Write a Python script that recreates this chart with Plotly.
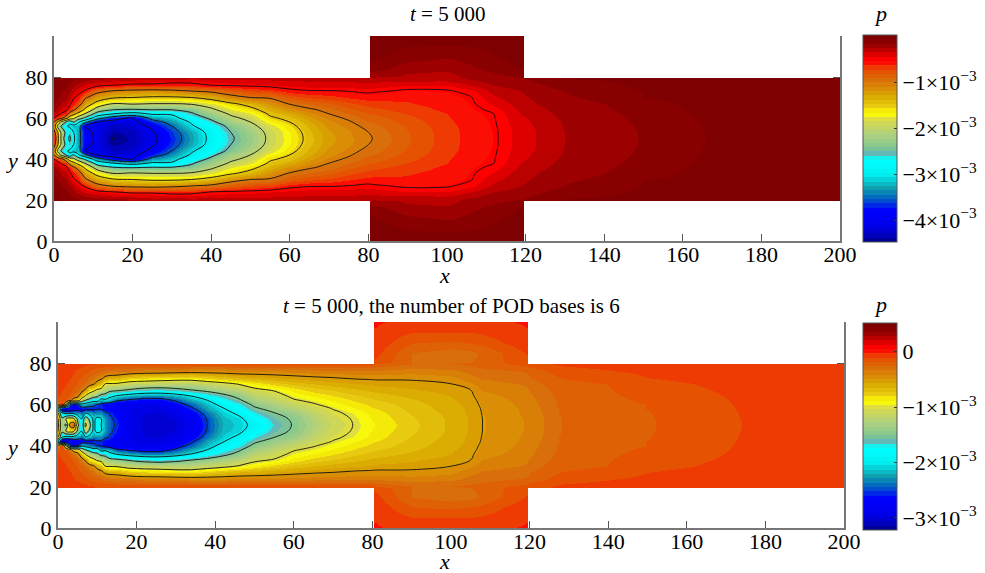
import plotly.graph_objects as go

W, H = 985, 573
h_channel = [0, 3, 6, 8, 10, 12, 14, 17, 20, 23, 26, 29.5]
h_stub = [30.5, 35, 40, 45, 50]

# ---- top panel: p (units of 1e-3) per x column, at distance h from the centre line
x_top = [0, 1, 2, 3, 4, 5, 6, 8, 11, 15, 20, 25, 30, 35, 40, 45, 50, 55, 60, 65, 70, 75, 80, 81,
         90, 100, 106, 112, 119, 120, 130, 140, 150, 165, 200]
p_top = [
    [-0.6, -0.8, -1.2, -1.0, -0.5, -0.3, -0.2, -0.15, -0.1, -0.07, -0.05, -0.03],
    [-1.4, -1.5, -2.2, -1.6, -0.7, -0.4, -0.3, -0.2, -0.15, -0.1, -0.08, -0.05],
    [-2.2, -2.2, -2.6, -2.2, -0.9, -0.55, -0.38, -0.28, -0.2, -0.15, -0.1, -0.06],
    [-2.8, -2.6, -2.9, -2.5, -1.3, -0.65, -0.42, -0.3, -0.22, -0.17, -0.12, -0.08],
    [-2.4, -2.6, -3.1, -2.9, -1.7, -1.2, -0.65, -0.45, -0.32, -0.24, -0.17, -0.1],
    [-2.9, -3.0, -3.2, -2.5, -1.9, -1.4, -0.95, -0.6, -0.48, -0.33, -0.22, -0.12],
    [-3.3, -3.3, -3.2, -2.9, -2.2, -1.6, -1.15, -0.75, -0.55, -0.4, -0.27, -0.14],
    [-3.8, -3.85, -4.02, -3.4, -2.6, -2.05, -1.6, -1.25, -0.95, -0.55, -0.35, -0.17],
    [-4.1, -4.12, -4.1, -4.02, -3.3, -2.7, -2.25, -1.65, -1.25, -0.9, -0.42, -0.2],
    [-4.52, -4.4, -4.3, -4.2, -3.75, -3.0, -2.5, -2.0, -1.45, -1.05, -0.5, -0.22],
    [-4.35, -4.32, -4.25, -4.12, -4.0, -3.2, -2.55, -1.95, -1.5, -1.12, -0.55, -0.25],
    [-4.1, -4.05, -3.9, -3.7, -3.35, -2.95, -2.5, -2.0, -1.55, -1.15, -0.55, -0.27],
    [-3.7, -3.65, -3.5, -3.35, -3.15, -2.95, -2.5, -2.0, -1.55, -1.1, -0.6, -0.28],
    [-3.3, -3.25, -3.05, -2.95, -2.75, -2.55, -2.4, -1.95, -1.5, -1.02, -0.58, -0.3],
    [-2.9, -2.87, -2.75, -2.6, -2.42, -2.25, -2.08, -1.8, -1.35, -0.95, -0.5, -0.3],
    [-2.55, -2.5, -2.4, -2.2, -2.08, -1.95, -1.78, -1.55, -1.12, -0.82, -0.48, -0.3],
    [-2.27, -2.22, -2.1, -2.0, -1.9, -1.78, -1.6, -1.38, -1.0, -0.72, -0.46, -0.3],
    [-1.92, -1.9, -1.82, -1.68, -1.55, -1.45, -1.35, -1.17, -0.97, -0.68, -0.43, -0.3],
    [-1.67, -1.65, -1.58, -1.5, -1.42, -1.32, -1.15, -0.98, -0.8, -0.56, -0.4, -0.3],
    [-1.42, -1.4, -1.35, -1.3, -1.22, -1.13, -1.03, -0.9, -0.72, -0.52, -0.38, -0.3],
    [-1.22, -1.2, -1.15, -1.12, -1.06, -1.0, -0.95, -0.83, -0.68, -0.52, -0.37, -0.3],
    [-1.12, -1.1, -1.06, -1.02, -0.97, -0.9, -0.84, -0.74, -0.62, -0.5, -0.37, -0.3],
    [-1.01, -1.0, -0.95, -0.91, -0.87, -0.82, -0.76, -0.68, -0.58, -0.47, -0.37, -0.28],
    [-1.0, -0.98, -0.94, -0.9, -0.86, -0.81, -0.75, -0.67, -0.58, -0.48, -0.37, -0.28],
    [-0.82, -0.81, -0.79, -0.77, -0.74, -0.71, -0.67, -0.63, -0.6, -0.53, -0.43, -0.26],
    [-0.66, -0.66, -0.65, -0.64, -0.63, -0.62, -0.6, -0.58, -0.56, -0.52, -0.43, -0.27],
    [-0.58, -0.58, -0.58, -0.57, -0.56, -0.55, -0.54, -0.52, -0.51, -0.46, -0.33, -0.22],
    [-0.52, -0.52, -0.515, -0.51, -0.505, -0.5, -0.47, -0.42, -0.36, -0.3, -0.24, -0.17],
    [-0.38, -0.38, -0.37, -0.36, -0.35, -0.33, -0.31, -0.28, -0.26, -0.24, -0.2, -0.15],
    [-0.37, -0.37, -0.36, -0.35, -0.34, -0.32, -0.3, -0.27, -0.25, -0.23, -0.19, -0.14],
    [-0.24, -0.24, -0.235, -0.23, -0.22, -0.21, -0.2, -0.18, -0.16, -0.145, -0.1, -0.05],
    [-0.19, -0.19, -0.185, -0.18, -0.175, -0.17, -0.16, -0.15, -0.13, -0.11, -0.08, -0.04],
    [-0.14, -0.14, -0.135, -0.13, -0.125, -0.12, -0.11, -0.1, -0.055, -0.05, -0.03, -0.02],
    [-0.056, -0.055, -0.054, -0.05, -0.045, -0.04, -0.03, -0.02, -0.02, -0.01, 0.0, 0.0],
    [0.02, 0.02, 0.02, 0.02, 0.02, 0.02, 0.02, 0.02, 0.02, 0.02, 0.02, 0.02],
]
stub_x_top = [81, 90, 100, 106, 112, 119]
stub_top = [
    [-0.2, -0.26, -0.27, -0.22, -0.17, -0.13],
    [-0.08, -0.2, -0.22, -0.16, -0.1, -0.04],
    [-0.03, -0.1, -0.14, -0.11, -0.06, -0.02],
    [-0.01, -0.05, -0.06, -0.05, -0.03, -0.01],
    [0.0, -0.01, -0.01, -0.01, -0.01, 0.0],
]

# ---- bottom panel
x_bot = [0, 1, 2, 3, 4, 5, 6, 7, 8, 9, 10, 11, 12, 13, 15, 18, 22, 26, 30, 34, 38, 42, 46, 50, 55,
         60, 65, 70, 75, 80, 81, 90, 100, 105, 108, 119, 120, 128, 140, 150, 160, 173, 200]
p_bot = [
    [-0.4, -0.5, -1.0, -2.0, -0.3, -0.15, -0.1, -0.08, -0.06, -0.05, -0.05, -0.03],
    [-1.3, -1.4, -2.0, -3.1, -0.05, -0.15, -0.12, -0.1, -0.08, -0.06, -0.05, -0.03],
    [-1.6, -1.0, -2.2, -3.1, -1.0, -0.2, -0.15, -0.12, -0.1, -0.08, -0.06, -0.04],
    [-0.4, -0.8, -2.2, -3.0, -2.4, -0.35, -0.2, -0.15, -0.13, -0.1, -0.08, -0.05],
    [-0.2, -0.9, -2.2, -2.8, -2.6, -0.7, -0.3, -0.2, -0.16, -0.12, -0.1, -0.06],
    [-1.4, -1.6, -2.3, -2.7, -2.5, -0.75, -0.42, -0.26, -0.2, -0.16, -0.12, -0.07],
    [-1.9, -2.0, -2.4, -2.7, -2.1, -1.2, -0.75, -0.36, -0.24, -0.19, -0.14, -0.08],
    [-0.9, -1.2, -2.1, -2.65, -2.2, -1.5, -1.05, -0.55, -0.3, -0.22, -0.16, -0.09],
    [-1.3, -1.6, -2.2, -2.65, -2.3, -1.65, -1.2, -0.8, -0.38, -0.27, -0.19, -0.1],
    [-2.1, -2.1, -2.3, -2.6, -2.4, -1.85, -1.35, -0.9, -0.45, -0.3, -0.21, -0.1],
    [-1.85, -1.9, -2.3, -2.55, -2.5, -1.8, -1.45, -1.05, -0.6, -0.38, -0.23, -0.11],
    [-2.0, -2.0, -2.3, -2.55, -2.55, -2.2, -1.65, -1.1, -0.7, -0.42, -0.25, -0.11],
    [-2.25, -2.27, -2.45, -2.65, -2.68, -2.1, -1.65, -1.25, -1.0, -0.55, -0.28, -0.12],
    [-2.4, -2.42, -2.52, -2.7, -2.72, -2.15, -1.9, -1.35, -1.02, -0.6, -0.3, -0.12],
    [-2.55, -2.6, -2.7, -2.8, -2.8, -2.45, -2.05, -1.42, -1.03, -0.62, -0.32, -0.13],
    [-2.9, -2.9, -2.9, -2.9, -2.85, -2.55, -2.2, -1.53, -1.12, -0.75, -0.33, -0.14],
    [-3.0, -3.0, -2.98, -2.95, -2.9, -2.65, -2.3, -1.65, -1.15, -0.8, -0.37, -0.14],
    [-3.05, -3.03, -3.0, -2.95, -2.85, -2.65, -2.3, -1.68, -1.18, -0.82, -0.38, -0.14],
    [-3.0, -2.98, -2.92, -2.85, -2.65, -2.45, -2.2, -1.6, -1.2, -0.85, -0.4, -0.14],
    [-2.85, -2.8, -2.7, -2.55, -2.4, -2.2, -2.0, -1.5, -1.2, -0.85, -0.42, -0.14],
    [-2.5, -2.48, -2.38, -2.25, -2.15, -2.0, -1.8, -1.4, -1.13, -0.78, -0.42, -0.14],
    [-2.2, -2.18, -2.1, -2.02, -1.88, -1.75, -1.6, -1.3, -1.07, -0.7, -0.42, -0.14],
    [-2.1, -2.07, -1.93, -1.82, -1.7, -1.55, -1.42, -1.2, -0.98, -0.65, -0.4, -0.14],
    [-1.92, -1.82, -1.68, -1.55, -1.43, -1.3, -1.2, -1.05, -0.88, -0.62, -0.4, -0.14],
    [-1.65, -1.6, -1.5, -1.38, -1.28, -1.18, -1.1, -0.98, -0.78, -0.58, -0.4, -0.14],
    [-1.48, -1.46, -1.38, -1.25, -1.13, -1.02, -0.95, -0.85, -0.7, -0.55, -0.38, -0.14],
    [-1.28, -1.24, -1.17, -1.1, -1.02, -0.95, -0.88, -0.77, -0.65, -0.52, -0.37, -0.14],
    [-1.1, -1.07, -1.03, -0.99, -0.92, -0.87, -0.81, -0.72, -0.61, -0.5, -0.36, -0.14],
    [-1.0, -0.99, -0.96, -0.9, -0.84, -0.8, -0.75, -0.67, -0.58, -0.48, -0.36, -0.14],
    [-0.9, -0.88, -0.85, -0.82, -0.78, -0.74, -0.7, -0.63, -0.56, -0.47, -0.35, -0.15],
    [-0.88, -0.86, -0.84, -0.81, -0.77, -0.73, -0.69, -0.62, -0.55, -0.47, -0.35, -0.2],
    [-0.75, -0.74, -0.72, -0.7, -0.68, -0.66, -0.63, -0.58, -0.54, -0.47, -0.38, -0.26],
    [-0.63, -0.63, -0.62, -0.61, -0.6, -0.58, -0.57, -0.54, -0.5, -0.44, -0.36, -0.26],
    [-0.56, -0.56, -0.55, -0.55, -0.54, -0.53, -0.52, -0.5, -0.43, -0.36, -0.31, -0.24],
    [-0.5, -0.5, -0.495, -0.49, -0.48, -0.47, -0.45, -0.41, -0.37, -0.33, -0.29, -0.22],
    [-0.41, -0.41, -0.4, -0.4, -0.39, -0.38, -0.37, -0.35, -0.33, -0.3, -0.25, -0.16],
    [-0.4, -0.4, -0.39, -0.38, -0.37, -0.36, -0.35, -0.33, -0.3, -0.26, -0.23, -0.14],
    [-0.26, -0.26, -0.25, -0.25, -0.24, -0.24, -0.23, -0.22, -0.2, -0.18, -0.14, -0.09],
    [-0.21, -0.21, -0.205, -0.2, -0.2, -0.195, -0.19, -0.185, -0.18, -0.16, -0.11, -0.07],
    [-0.19, -0.19, -0.185, -0.18, -0.18, -0.17, -0.165, -0.15, -0.14, -0.105, -0.08, -0.05],
    [-0.145, -0.14, -0.14, -0.135, -0.13, -0.13, -0.125, -0.12, -0.11, -0.08, -0.06, -0.04],
    [-0.106, -0.105, -0.103, -0.102, -0.1, -0.097, -0.095, -0.085, -0.07, -0.05, -0.04, -0.03],
    [-0.03, -0.03, -0.03, -0.03, -0.03, -0.03, -0.03, -0.03, -0.03, -0.03, -0.03, -0.03],
]
stub_x_bot = [81, 90, 100, 105, 108, 119]
stub_bot = [
    [-0.12, -0.26, -0.28, -0.26, -0.24, -0.12],
    [-0.08, -0.26, -0.3, -0.28, -0.25, -0.1],
    [-0.05, -0.18, -0.2, -0.18, -0.16, -0.05],
    [-0.03, -0.1, -0.1, -0.1, -0.09, -0.03],
    [-0.02, -0.04, -0.05, -0.04, -0.04, -0.02],
]

z_range_top = (-4.48, 0.04)
z_range_bot = (-3.22, 0.52)
cb_ticks_top = [-1, -2, -3, -4]
cb_text_top = ["−1×10<sup>−3</sup>", "−2×10<sup>−3</sup>", "−3×10<sup>−3</sup>", "−4×10<sup>−3</sup>"]
cb_ticks_bot = [0, -1, -2, -3]
cb_text_bot = ["0", "−1×10<sup>−3</sup>", "−2×10<sup>−3</sup>", "−3×10<sup>−3</sup>"]

# colour ramp (fraction from the top, colour)
ramp = [(0, (122, 0, 0)), (.04, (140, 0, 0)), (.085, (204, 0, 0)), (.11, (255, 0, 0)), (.13, (255, 0, 0)),
        (.145, (245, 40, 10)), (.165, (232, 74, 0)), (.22, (217, 112, 10)), (.295, (217, 168, 0)), (.345, (232, 204, 16)),
        (.38, (255, 255, 0)), (.41, (217, 217, 74)), (.48, (176, 208, 128)), (.545, (128, 200, 144)),
        (.57, (112, 176, 176)), (.60, (0, 255, 255)), (.675, (0, 240, 240)), (.74, (16, 160, 176)),
        (.79, (0, 96, 192)), (.845, (0, 0, 255)), (.92, (0, 0, 235)), (.97, (0, 0, 190)), (1, (0, 0, 128))]


def ramp_colour(f):
    for (a, ca), (b, cb) in zip(ramp, ramp[1:]):
        if f <= b:
            t = (f - a) / (b - a)
            return "rgb(%d,%d,%d)" % tuple(round(p + (q - p) * t) for p, q in zip(ca, cb))
    return "rgb(0,0,128)"


N = 48
stepped = []
for k in range(N):
    c = ramp_colour(1 - (k + .5) / N)
    stepped += [[k / N, c], [(k + 1) / N, c]]


def field(xs, table, sxs, stub):
    """Arrange the column table on the full y grid; cells outside the T-shaped domain stay empty."""
    hs = h_channel + h_stub
    n_c = len(h_channel)
    half = []
    for i, h in enumerate(hs):
        row = []
        for j, x in enumerate(xs):
            if i < n_c:
                row.append(table[j][i])
            elif x in sxs:
                row.append(stub[i - n_c][sxs.index(x)])
            else:
                row.append(None)
        half.append(row)
    ys = [50 - h for h in hs[::-1]] + [50 + h for h in hs[1:]]
    return ys, half[::-1] + half[1:]


def px(v):
    return v / W


def py(v):
    return 1 - v / H


fig = go.Figure()
FONT = "Liberation Serif"
panels = [
    dict(x=x_top, t=p_top, sx=stub_x_top, s=stub_top, r=z_range_top, ax=("x", "y"), l=54, rgt=840, top=36, bot=241,
         ct=cb_ticks_top, cx=cb_text_top, cbt=35, cbb=242, lv=(-4.5, -0.5)),
    dict(x=x_bot, t=p_bot, sx=stub_x_bot, s=stub_bot, r=z_range_bot, ax=("x2", "y2"), l=58, rgt=844, top=322, bot=528,
         ct=cb_ticks_bot, cx=cb_text_bot, cbt=323, cbb=530, lv=(-2.5, -0.5)),
]
for p in panels:
    ys, z = field(p["x"], p["t"], p["sx"], p["s"])
    fig.add_trace(go.Heatmap(
        x=p["x"], y=ys, z=z, xaxis=p["ax"][0], yaxis=p["ax"][1], zsmooth="best", zmin=p["r"][0], zmax=p["r"][1],
        colorscale=stepped, hoverongaps=False,
        colorbar=dict(x=px(863), xanchor="left", y=py(p["cbb"]), yanchor="bottom", thickness=34, thicknessmode="pixels",
                      len=p["cbb"] - p["cbt"], lenmode="pixels", xpad=0, ypad=0, outlinecolor="#555", outlinewidth=1,
                      tickvals=p["ct"], ticktext=p["cx"], ticks="inside", ticklen=3, tickcolor="#333",
                      tickfont=dict(family=FONT, size=22, color="black"))))
    fig.add_trace(go.Contour(
        x=p["x"], y=ys, z=z, xaxis=p["ax"][0], yaxis=p["ax"][1], showscale=False, autocontour=False, hoverinfo="skip",
        contours=dict(coloring="none", start=p["lv"][0], end=p["lv"][1], size=0.5),
        line=dict(color="#111", width=0.9), connectgaps=False))

common_axis = dict(ticks="inside", ticklen=7, tickwidth=1, tickcolor="#555", showline=True, linecolor="#777", linewidth=2,
                   showgrid=False, zeroline=False, layer="below traces",
                   tickfont=dict(family=FONT, size=22, color="black"))
x_ticks = [0, 20, 40, 60, 80, 100, 120, 140, 160, 180, 200]
y_ticks = [0, 20, 40, 60, 80]
layout = dict(width=W, height=H, margin=dict(l=0, r=0, t=0, b=0, autoexpand=False), paper_bgcolor="white",
              plot_bgcolor="white", showlegend=False)
for p, sx, sy in zip(panels, ("xaxis", "xaxis2"), ("yaxis", "yaxis2")):
    layout[sx] = dict(common_axis, domain=[px(p["l"]), px(p["rgt"])], range=[0, 200], tickvals=x_ticks,
                      anchor=p["ax"][1], mirror=False, ticklabelstandoff=-7)
    layout[sy] = dict(common_axis, domain=[py(p["bot"]), py(p["top"])], range=[0, 100], tickvals=y_ticks,
                      anchor=p["ax"][0], mirror="ticks")
fig.update_layout(**layout)


def note(text, x, y, size=22):
    fig.add_annotation(text=text, x=px(x), y=py(y), xref="paper", yref="paper", showarrow=False, xanchor="center",
                       yanchor="middle", font=dict(family=FONT, size=size, color="black"))


note("<i>t</i> = 5 000", 447, 14, 21)
note("<i>t</i> = 5 000, the number of POD bases is 6", 451, 306, 21)
note("<i>x</i>", 444, 275)
note("<i>x</i>", 444, 561)
note("<i>y</i>", 12, 160)
note("<i>y</i>", 12, 447)
note("<i>p</i>", 880, 14)
note("<i>p</i>", 880, 304)

fig.write_html("out.html", config={"displayModeBar": False}, post_script="document.body.style.margin='0';")
